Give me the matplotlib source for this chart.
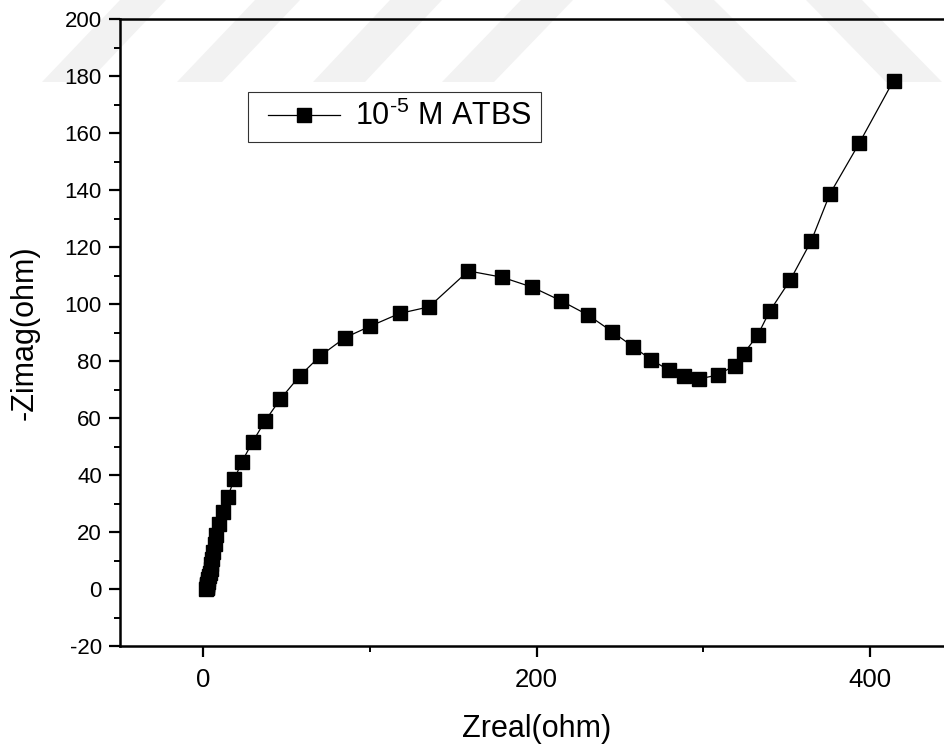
import matplotlib
matplotlib.use("Agg")
import matplotlib.pyplot as plt
from matplotlib.patches import Polygon
from matplotlib.ticker import MultipleLocator
from matplotlib.legend_handler import HandlerLine2D

# Nyquist data, 1e-5 M ATBS (ohm)
zreal = [1.9, 2.0, 2.1, 2.3, 2.5, 2.8, 3.1, 3.5, 3.9, 4.4, 4.9, 5.5, 6.1, 6.8,
         7.6, 9.2, 11.6, 14.6, 18.6, 23.2, 29.6, 37.0, 46.2, 57.8, 70.2, 85.1,
         100.1, 117.9, 135.5, 159.1, 179.3, 197.5, 214.5, 231.0, 245.4, 258.0,
         269.0, 279.4, 288.8, 297.5, 308.8, 318.9, 324.3, 332.7, 339.9, 352.3,
         364.9, 376.1, 393.7, 414.3]
zimag = [0.1, 0.4, 0.8, 1.3, 1.9, 2.6, 3.4, 4.4, 5.6, 7.0, 8.7, 10.7, 13.0, 15.8,
         18.9, 22.8, 27.0, 32.3, 38.5, 44.7, 51.6, 58.9, 66.6, 74.7, 81.8, 88.2,
         92.2, 96.7, 99.0, 111.6, 109.4, 105.9, 101.2, 96.1, 90.3, 85.0,
         80.4, 76.8, 74.9, 73.7, 75.1, 78.4, 82.6, 89.0, 97.4, 108.4,
         122.1, 138.6, 156.4, 178.4]
series_label = r"10$^{\text{-}5}$ M ATBS"

plt.rcParams["font.family"] = ["Liberation Sans", "DejaVu Sans"]
plt.rcParams["mathtext.fontset"] = "custom"
plt.rcParams["mathtext.rm"] = "Liberation Sans"
plt.rcParams["mathtext.it"] = "Liberation Sans"
plt.rcParams["axes.unicode_minus"] = False

W, H = 944, 749
fig = plt.figure(figsize=(W / 100, H / 100), dpi=100)

# faint striped logo across the top
def band(x_top, x_bot, width, y0=0, y1=82):
    pts = [(x_top, y0), (x_top + width, y0), (x_bot + width, y1), (x_bot, y1)]
    return [(px / W, 1 - py / H) for px, py in pts]

for xt, xb, w in [(120, 42, 46), (255, 177, 45), (390, 313, 52), (521, 442, 52),
                  (664, 747, 50), (806, 886, 56)]:
    fig.add_artist(Polygon(band(xt, xb, w), closed=True, facecolor="#f2f2f2",
                           edgecolor="none", transform=fig.transFigure, zorder=-1))

ax = fig.add_axes([120 / W, 103 / H, (953 - 120) / W, 627 / H])
ax.patch.set_visible(False)

line, = ax.plot(zreal, zimag, color="black", linewidth=0.9, marker="s", markersize=9.5,
                markerfacecolor="black", markeredgecolor="black", label=series_label)

ax.set_xlim(-50, 450)
ax.set_ylim(-20, 200)
ax.xaxis.set_major_locator(MultipleLocator(200))
ax.xaxis.set_minor_locator(MultipleLocator(100))
ax.yaxis.set_major_locator(MultipleLocator(20))
ax.yaxis.set_minor_locator(MultipleLocator(10))

for s in ax.spines.values():
    s.set_linewidth(1.8)
ax.spines["right"].set_visible(False)

ax.tick_params(which="major", direction="out", length=8, width=1.6, pad=5)
ax.tick_params(which="minor", direction="out", length=4, width=1.4)
ax.tick_params(axis="x", labelsize=18.5, pad=8)
ax.tick_params(axis="y", labelsize=16)

ax.set_xlabel("Zreal(ohm)", fontsize=22, labelpad=16)
ax.set_ylabel("-Zimag(ohm)", fontsize=22, labelpad=18)

leg = ax.legend(loc="upper left", bbox_to_anchor=((248 - 120) / 833, 1 - (92 - 19) / 627),
                fontsize=22, frameon=True, fancybox=False, borderaxespad=0,
                handlelength=2.7, handletextpad=0.5, borderpad=0.3,
                handler_map={line: HandlerLine2D(xpad=0.36)})
leg.get_frame().set_edgecolor("black")
leg.get_frame().set_linewidth(0.8)

fig.savefig("out.png", dpi=100)
